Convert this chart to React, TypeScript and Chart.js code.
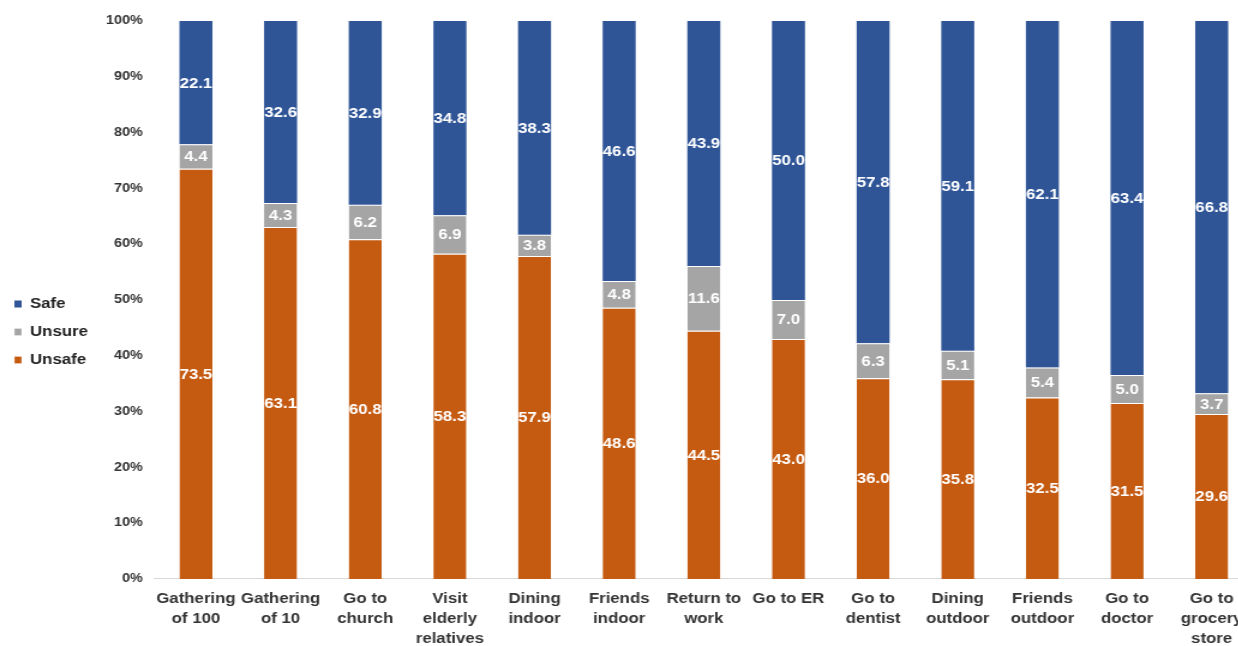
import React, { useEffect, useRef } from "react";
import { Chart, registerables } from "chart.js";

Chart.register(...registerables);

const categories: (string | string[])[] = [
  ["Gathering", "of 100"],
  ["Gathering", "of 10"],
  ["Go to", "church"],
  ["Visit", "elderly", "relatives"],
  ["Dining", "indoor"],
  ["Friends", "indoor"],
  ["Return to", "work"],
  ["Go to ER"],
  ["Go to", "dentist"],
  ["Dining", "outdoor"],
  ["Friends", "outdoor"],
  ["Go to", "doctor"],
  ["Go to", "grocery", "store"],
];

const unsafeValues = [73.5, 63.1, 60.8, 58.3, 57.9, 48.6, 44.5, 43.0, 36.0, 35.8, 32.5, 31.5, 29.6];
const unsureValues = [4.4, 4.3, 6.2, 6.9, 3.8, 4.8, 11.6, 7.0, 6.3, 5.1, 5.4, 5.0, 3.7];
const safeValues = [22.1, 32.6, 32.9, 34.8, 38.3, 46.6, 43.9, 50.0, 57.8, 59.1, 62.1, 63.4, 66.8];

const yTicks = [0, 10, 20, 30, 40, 50, 60, 70, 80, 90, 100];

const FONT = "'Liberation Sans', Arial, sans-serif";

// the reference is rendered horizontally stretched; draw narrow and stretch via CSS
const CSS_W = 1260;
const CANVAS_W = 1050;
const CANVAS_H = 646;

export default function App() {
  const ref = useRef<HTMLCanvasElement>(null);

  useEffect(() => {
    if (!ref.current) return;
    const totals = unsafeValues.map((v, i) => v + unsureValues[i] + safeValues[i]);
    const norm = (arr: number[]) => arr.map((v, i) => (v / totals[i]) * 100);
    const raw = [unsafeValues, unsureValues, safeValues];

    const labelPlugin = {
      id: "segLabels",
      afterDatasetsDraw(chart: any) {
        const ctx = chart.ctx;
        ctx.save();
        ctx.fillStyle = "#ffffff";
        ctx.font = `bold 14px ${FONT}`;
        ctx.textAlign = "center";
        ctx.textBaseline = "middle";
        chart.data.datasets.forEach((ds: any, di: number) => {
          const meta = chart.getDatasetMeta(di);
          meta.data.forEach((el: any, i: number) => {
            const v = raw[di][i];
            const y = (el.y + el.base) / 2;
            ctx.fillText(v.toFixed(1), el.x, y + 1);
          });
        });
        ctx.restore();
      },
    };

    const legendWidthPlugin = {
      id: "legendWidth",
      afterInit(chart: any) {
        const lg = chart.legend;
        if (!lg) return;
        const orig = lg.fit;
        lg.fit = function () {
          orig.call(this);
          this.width = 80;
        };
      },
      afterLayout(chart: any) {
        const lg = chart.legend;
        if (!lg) return;
        lg.top -= 8;
        lg.bottom -= 8;
      },
    };

    const chart = new Chart(ref.current, {
      type: "bar",
      data: {
        labels: categories,
        datasets: [
          {
            label: "Unsafe",
            data: norm(unsafeValues),
            backgroundColor: "#C55A11",
            borderColor: "#ffffff",
            borderWidth: { top: 1, left: 0, right: 0, bottom: 0 },
            borderSkipped: false,
          },
          {
            label: "Unsure",
            data: norm(unsureValues),
            backgroundColor: "#A5A5A5",
            borderColor: "#ffffff",
            borderWidth: { top: 1, left: 0, right: 0, bottom: 0 },
            borderSkipped: false,
          },
          {
            label: "Safe",
            data: norm(safeValues),
            backgroundColor: "#2F5597",
            borderColor: "#ffffff",
            borderWidth: { top: 0, left: 0, right: 0, bottom: 0 },
            borderSkipped: false,
          },
        ],
      },
      options: {
        responsive: false,
        devicePixelRatio: 1,
        animation: false,
        events: [],
        layout: { padding: { left: -2, right: 5, top: 21, bottom: -13 } },
        datasets: { bar: { categoryPercentage: 1, barPercentage: 0.39 } },
        plugins: {
          tooltip: { enabled: false },
          legend: {
            position: "left",
            reverse: true,
            labels: {
              boxWidth: 6,
              boxHeight: 7,
              padding: 14,
              color: "#222222",
              font: { family: FONT, size: 14, weight: "bold" },
            },
          },
        },
        scales: {
          x: {
            stacked: true,
            grid: { display: false, drawTicks: false },
            border: { display: true, color: "#d9d9d9", width: 1 },
            ticks: {
              color: "#333333",
              padding: 10,
              maxRotation: 0,
              autoSkip: false,
              font: { family: FONT, size: 14, weight: "bold", lineHeight: 1.43 },
            },
          },
          y: {
            stacked: true,
            min: 0,
            max: 100,
            afterFit: (s: any) => {
              s.width = 50;
            },
            afterBuildTicks: (s: any) => {
              s.ticks = yTicks.map((v) => ({ value: v }));
            },
            grid: { display: false, drawTicks: false },
            border: { display: false },
            ticks: {
              color: "#333333",
              padding: 9,
              font: { family: FONT, size: 12, weight: "bold" },
              callback: (v: any) => `${v}%`,
            },
          },
        },
      },
      plugins: [labelPlugin, legendWidthPlugin],
    });
    return () => chart.destroy();
  }, []);

  return (
    <div
      style={{
        position: "fixed",
        left: 0,
        top: 0,
        width: 1238,
        height: 646,
        overflow: "hidden",
        background: "#ffffff",
      }}
    >
      <canvas
        ref={ref}
        width={CANVAS_W}
        height={CANVAS_H}
        style={{ width: CSS_W, height: CANVAS_H, display: "block" }}
      />
    </div>
  );
}
